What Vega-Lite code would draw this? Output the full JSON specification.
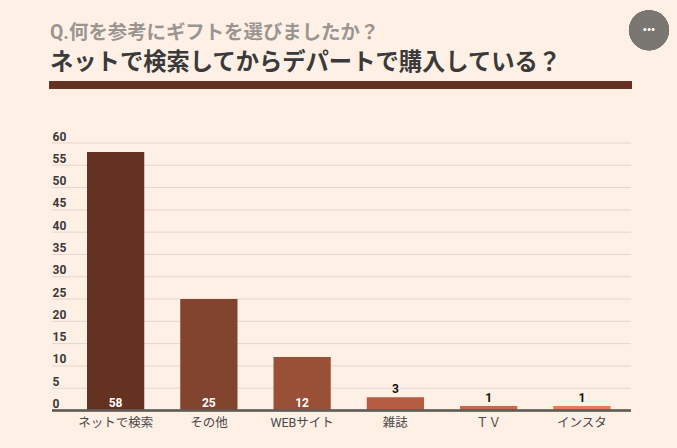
{
"$schema":"https://vega.github.io/schema/vega-lite/v6.json",
"autosize":{"type":"none"},
"padding":{"left":52,"top":143,"right":46,"bottom":37},
"width":579,
"height":267.5,
"background":"#fff0e6",
"config":{"view":{"stroke":null},"axisY":{"tickCount":13,"labelOverlap":false,"grid":false,"domain":false,"ticks":false,"labelAlign":"left","labelBaseline":"bottom","labelPadding":0,"labelFont":"Roboto","labelFontSize":12,"labelFontWeight":"bold","labelColor":"#3a3a3a"}},
"title":{"text":"Q.何を参考にギフトを選びましたか？","subtitle":"ネットで検索してからデパートで購入している？","anchor":"start","frame":"group","dx":-2,"offset":-65,"font":"Roboto, 'Noto Sans CJK JP'","fontSize":19.4,"fontWeight":"bold","color":"#999691","subtitleFont":"Roboto, 'Noto Sans CJK JP'","subtitleFontSize":23.3,"subtitleFontWeight":"bold","subtitleColor":"#3a3a3a","subtitlePadding":9},
"data":{"values":[
{"category":"ネットで検索","count":58},
{"category":"その他","count":25},
{"category":"WEBサイト","count":12},
{"category":"雑誌","count":3},
{"category":"ＴＶ","count":1},
{"category":"インスタ","count":1}
]},
"resolve":{"scale":{"x":"independent"}},
"layer":[
{"layer":[
{"mark":{"type":"rule","color":"#e3d6ca"},"data":{"values":[{"v":5},{"v":10},{"v":15},{"v":20},{"v":25},{"v":30},{"v":35},{"v":40},{"v":45},{"v":50},{"v":55},{"v":60}]},
 "encoding":{"y":{"field":"v","type":"quantitative","title":null,"scale":{"domain":[0,60]}}}},
{"mark":{"type":"bar"},
 "encoding":{
 "x":{"field":"category","type":"nominal","sort":null,"scale":{"range":[35,558.5],"paddingInner":0.386,"paddingOuter":0},"axis":{"title":null,"domain":false,"ticks":false,"labelAngle":0,"labelPadding":6,"labelFont":"Roboto, 'Noto Sans CJK JP'","labelFontSize":12.5,"labelColor":"#4a4a4a"}},
 "y":{"field":"count","type":"quantitative","title":null},
 "color":{"field":"category","type":"nominal","sort":null,"legend":null,"scale":{"range":["#653222","#82442f","#9a4f37","#b55c40","#cc6848","#ef7850"]}}}},
{"transform":[{"filter":"datum.count>=10"}],"mark":{"type":"text","baseline":"bottom","dy":-1,"color":"#ffffff","font":"Roboto","fontSize":12,"fontWeight":"bold"},
 "encoding":{"x":{"field":"category","type":"nominal","sort":null},"y":{"datum":0,"title":null},"text":{"field":"count"}}},
{"transform":[{"filter":"datum.count<10"}],"mark":{"type":"text","baseline":"bottom","dy":-1,"color":"#111111","font":"Roboto","fontSize":12,"fontWeight":"bold"},
 "encoding":{"x":{"field":"category","type":"nominal","sort":null},"y":{"field":"count","type":"quantitative","title":null},"text":{"field":"count"}}},
{"mark":{"type":"rule","color":"#5f5b57","strokeWidth":1.6},"encoding":{"y":{"datum":0,"title":null}}}
]},
{"mark":{"type":"rule","color":"#653222","strokeWidth":7},
 "encoding":{"x":{"datum":-3,"type":"quantitative","scale":{"domain":[0,579],"nice":false},"axis":null},"x2":{"datum":580},"y":{"datum":73,"title":null}}},
{"mark":{"type":"point","filled":true,"opacity":1,"color":"#7a7672","size":1600},
 "encoding":{"x":{"datum":597,"type":"quantitative","scale":{"domain":[0,579],"nice":false},"axis":null},"y":{"datum":85.3,"title":null}}},
{"mark":{"type":"text","text":"•••","color":"#ffffff","fontSize":7,"font":"DejaVu Sans"},
 "encoding":{"x":{"datum":597,"type":"quantitative","scale":{"domain":[0,579],"nice":false},"axis":null},"y":{"datum":85.3,"title":null}}}
]
}
